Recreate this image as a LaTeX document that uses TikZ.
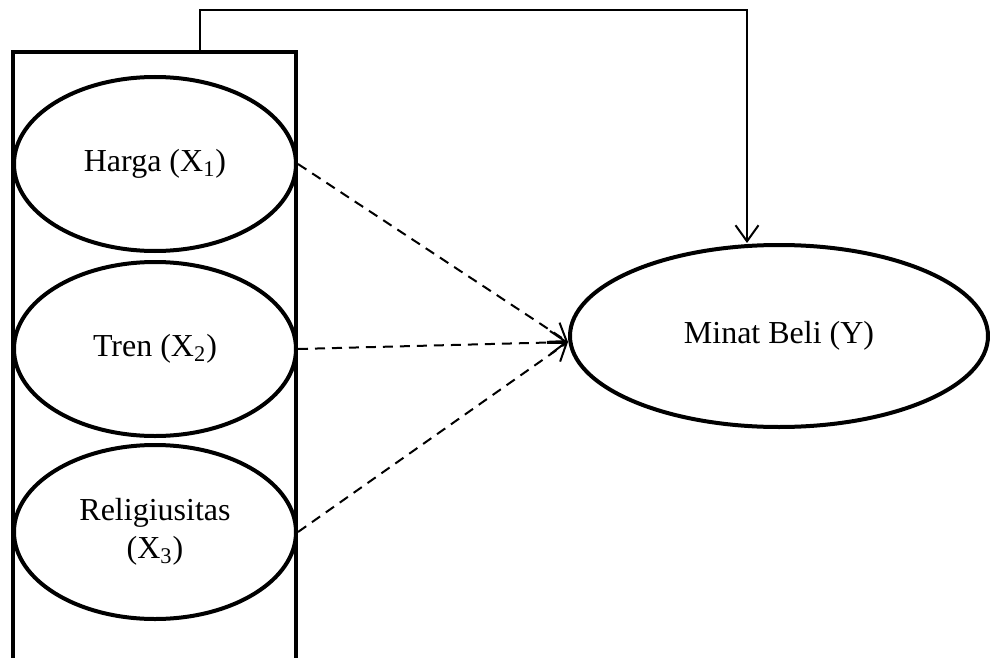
\documentclass[tikz,border=0pt]{standalone}
\usepackage{fontspec}
\setmainfont{Liberation Serif}
\usetikzlibrary{shapes.geometric,arrows.meta}

\begin{document}
\begin{tikzpicture}[x=0.5pt, y=-0.5pt, font=\fontsize{16}{19}\selectfont,
    every node/.style={ellipse, draw, line width=2pt, inner sep=0pt, align=center},
    var/.style={minimum width=141pt, minimum height=87pt},
    tip/.style={-{Straight Barb[length=8pt,width=11.5pt]}}]
            \useasboundingbox (0,0) rectangle (990,658);

            \node[var] (X1) at (155,164) {Harga (X\textsubscript{1})};
            \node[var] (X2) at (155,349) {Tren (X\textsubscript{2})};
            \node[var] (X3) at (155,532) {Religiusitas\\(X\textsubscript{3})};
            \node[minimum width=209pt, minimum height=91pt] (Y) at (779,336) {Minat Beli (Y)};

            \draw[line width=2pt] (13,660) -- (13,52) -- (296,52) -- (296,660);

            \coordinate (top) at (200,52);
            \coordinate (bend) at (747,10);
            \coordinate (yin) at ([yshift=-3pt]Y.west);
            \draw[line width=1pt, tip] (top) |- (bend) -- (bend |- Y.north);

            \draw[line width=1pt, dash pattern=on 5pt off 3.5pt, tip] (X1.east) -- (yin);
            \draw[line width=1pt, dash pattern=on 5pt off 3.5pt, tip] (X2.east) -- (yin);
            \draw[line width=1pt, dash pattern=on 5pt off 3.5pt, tip] (X3.east) -- (yin);
        \end{tikzpicture}
\end{document}
